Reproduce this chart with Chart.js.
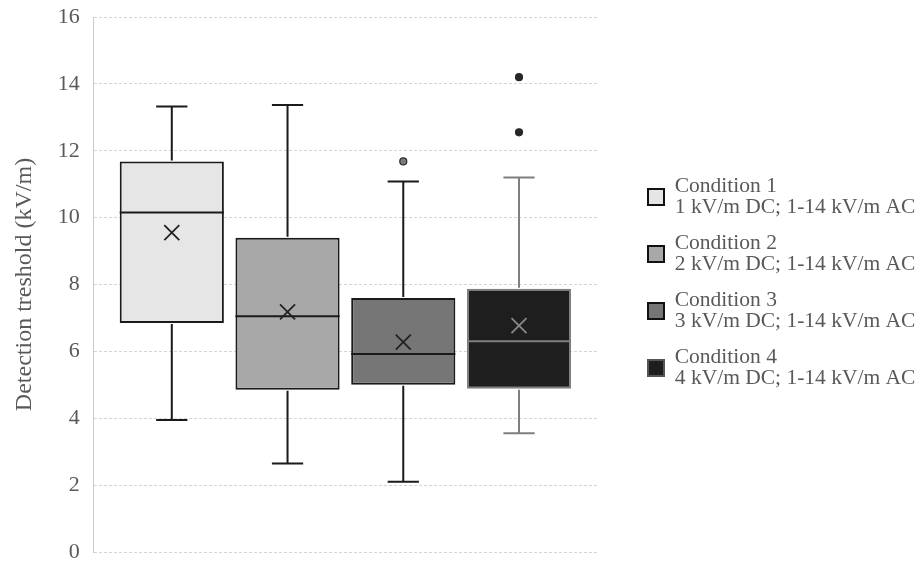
<!DOCTYPE html>
<html><head><meta charset="utf-8">
<script src="https://cdn.jsdelivr.net/npm/chart.js@4/dist/chart.umd.min.js"></script>
<style>html,body{margin:0;padding:0;background:#fff}#wrap{width:923px;height:562px;position:relative}</style>
</head><body><div id="wrap"><canvas id="c"></canvas></div>
<script>
// ---- data ----
const conditionNames = ['Condition 1', 'Condition 2', 'Condition 3', 'Condition 4'];
const conditionDetails = ['1 kV/m DC; 1-14 kV/m AC', '2 kV/m DC; 1-14 kV/m AC', '3 kV/m DC; 1-14 kV/m AC', '4 kV/m DC; 1-14 kV/m AC'];
const whiskerMin = [3.95, 2.65, 2.1, 3.55];
const q1Values = [6.85, 4.85, 5.0, 4.88];
const medianValues = [10.15, 7.05, 5.92, 6.3];
const q3Values = [11.68, 9.4, 7.6, 7.87];
const whiskerMax = [13.32, 13.37, 11.08, 11.2];
const meanValues = [9.55, 7.18, 6.28, 6.77];
const outlierValues = [[], [], [11.68], [12.55, 14.2]];
const yTickValues = [0, 2, 4, 6, 8, 10, 12, 14, 16];

// ---- styles ----
const fillColors = ['#e6e6e6', '#a8a8a8', '#767676', '#1e1e1e'];
const edgeColors = ['#1a1a1a', '#1a1a1a', '#1a1a1a', '#7f7f7f'];
const legendEdge = ['#111', '#111', '#111', '#555'];
const markColors = ['#222222', '#222222', '#222222', '#8a8a8a'];
const outlierFill = ['#333', '#333', '#7a7a7a', '#262626'];
const serif = 'Liberation Serif';
const LEGEND_WIDTH = 326, LEGEND_SHIFT = 37, LEGEND_BOX = 16;

const boxExtras = {
  id: 'boxExtras',
  beforeInit(chart) {
    const lg = chart.legend;
    const origFit = lg.fit;
    lg.fit = function () { origFit.call(this); this.width = Math.max(this.width, LEGEND_WIDTH); };
  },
  afterLayout(chart) { chart.legend.left += LEGEND_SHIFT; chart.legend.top -= 4; },
  afterDatasetsDraw(chart) {
    const ctx = chart.ctx, ys = chart.scales.y;
    chart.data.datasets.forEach((ds, i) => {
      const meta = chart.getDatasetMeta(i);
      if (meta.hidden) return;
      const bar = meta.data[0];
      const cx = bar.x, w = bar.width;
      const yMin = ys.getPixelForValue(whiskerMin[i]);
      const yQ1 = ys.getPixelForValue(q1Values[i]);
      const yMed = ys.getPixelForValue(medianValues[i]);
      const yQ3 = ys.getPixelForValue(q3Values[i]);
      const yMax = ys.getPixelForValue(whiskerMax[i]);
      const yMean = ys.getPixelForValue(meanValues[i]);
      const cap = w * 0.15;
      ctx.save();
      ctx.strokeStyle = edgeColors[i];
      ctx.lineWidth = 2;
      ctx.beginPath();
      ctx.moveTo(cx, yQ3 - 1); ctx.lineTo(cx, yMax);
      ctx.moveTo(cx - cap, yMax); ctx.lineTo(cx + cap, yMax);
      ctx.moveTo(cx, yQ1 + 1); ctx.lineTo(cx, yMin);
      ctx.moveTo(cx - cap, yMin); ctx.lineTo(cx + cap, yMin);
      ctx.stroke();
      ctx.beginPath();
      ctx.moveTo(cx - w / 2, yMed); ctx.lineTo(cx + w / 2, yMed);
      ctx.stroke();
      ctx.strokeStyle = markColors[i];
      ctx.lineWidth = 1.8;
      const s = 7.5;
      ctx.beginPath();
      ctx.moveTo(cx - s, yMean - s); ctx.lineTo(cx + s, yMean + s);
      ctx.moveTo(cx + s, yMean - s); ctx.lineTo(cx - s, yMean + s);
      ctx.stroke();
      outlierValues[i].forEach(v => {
        const py = ys.getPixelForValue(v);
        ctx.beginPath();
        ctx.arc(cx, py, 3.5, 0, Math.PI * 2);
        ctx.fillStyle = outlierFill[i];
        ctx.fill();
        ctx.lineWidth = 1.2;
        ctx.strokeStyle = '#2a2a2a';
        ctx.stroke();
      });
      ctx.restore();
    });
  },
  afterDraw(chart) {
    const ctx = chart.ctx;
    chart.legend.legendHitBoxes.forEach((h, i) => {
      const x = h.left, y = h.top + h.height / 2 - LEGEND_BOX / 2;
      ctx.save();
      ctx.fillStyle = fillColors[i];
      ctx.fillRect(x, y, LEGEND_BOX, LEGEND_BOX);
      ctx.lineWidth = 2;
      ctx.strokeStyle = legendEdge[i];
      ctx.strokeRect(x, y, LEGEND_BOX, LEGEND_BOX);
      ctx.restore();
    });
  }
};

const datasets = conditionNames.map((name, i) => ({
  label: name,
  data: [[q1Values[i], q3Values[i]]],
  backgroundColor: fillColors[i],
  borderColor: edgeColors[i],
  borderWidth: 2,
  borderSkipped: false,
  categoryPercentage: 0.92,
  barPercentage: 0.9
}));

new Chart(document.getElementById('c'), {
  type: 'bar',
  data: { labels: [''], datasets },
  plugins: [boxExtras],
  options: {
    responsive: true,
    maintainAspectRatio: false,
    animation: false,
    layout: { padding: { left: 6, top: 17, right: 0, bottom: 10 } },
    plugins: {
      tooltip: { enabled: false },
      legend: {
        position: 'right',
        labels: {
          boxWidth: LEGEND_BOX, boxHeight: LEGEND_BOX,
          padding: 14,
          color: '#595959',
          font: { family: serif, size: 21.5, lineHeight: 1.0 },
          generateLabels(chart) {
            return chart.data.datasets.map((ds, i) => ({
              text: [conditionNames[i], conditionDetails[i]],
              fillStyle: 'rgba(0,0,0,0)',
              strokeStyle: 'rgba(0,0,0,0)',
              lineWidth: 0,
              hidden: false,
              datasetIndex: i,
              fontColor: '#595959'
            }));
          }
        }
      }
    },
    scales: {
      x: { display: false },
      y: {
        min: 0, max: 16,
        afterBuildTicks(scale) { scale.ticks = yTickValues.map(v => ({ value: v })); },
        afterFit(scale) { scale.paddingTop = 0; scale.paddingBottom = 0; },
        ticks: { color: '#595959', font: { family: serif, size: 22 }, padding: 14 },
        grid: { color: '#d4d4d4', lineWidth: 1, drawTicks: false },
        border: { display: true, color: '#cccccc', dash: [3, 2] },
        title: { display: true, text: 'Detection treshold (kV/m)', color: '#595959', font: { family: serif, size: 24 }, padding: { top: 4, bottom: 5 } }
      }
    }
  }
});
</script>
</body></html>
